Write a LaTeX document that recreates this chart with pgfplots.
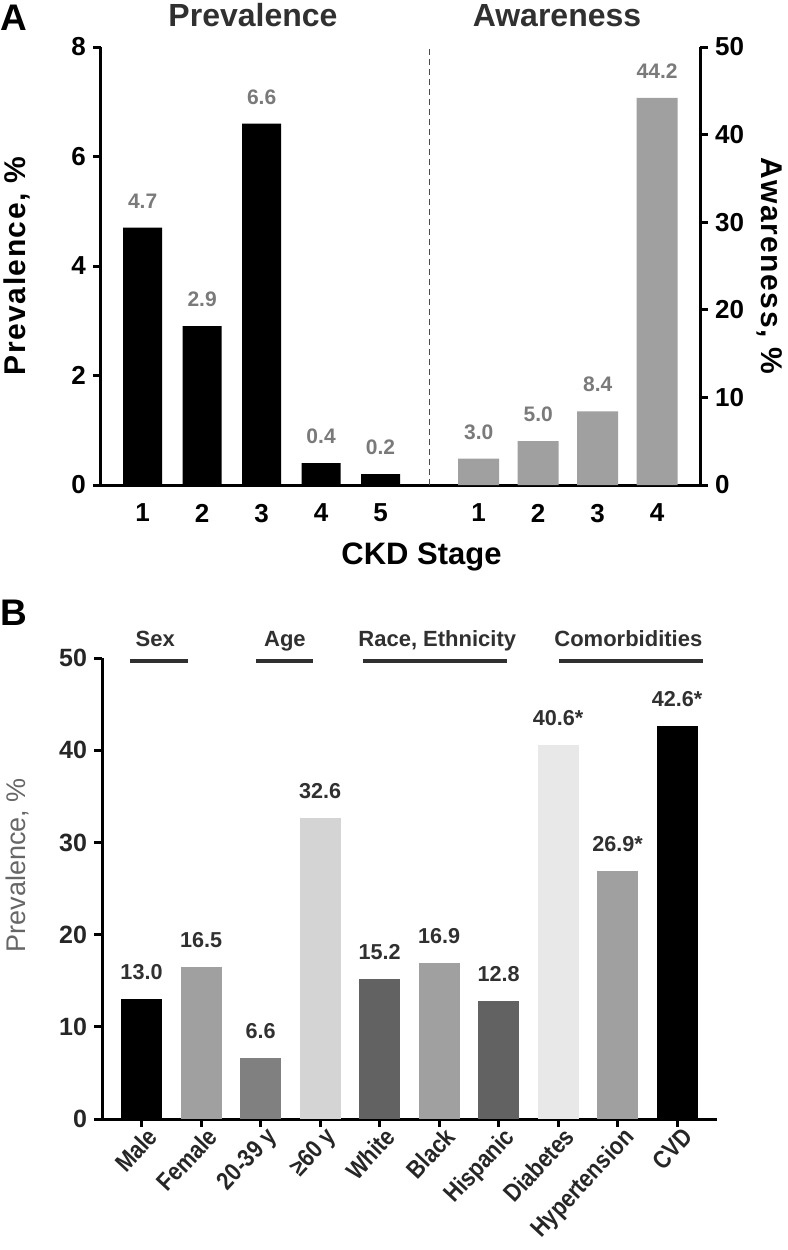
\documentclass[border=0pt]{standalone}
\usepackage{fontspec}
\setmainfont{Liberation Sans}
\newfontfamily\condfont[FakeStretch=0.86]{Liberation Sans}
\usepackage{pgfplots}
\pgfplotsset{compat=1.18}

\definecolor{lblgray}{RGB}{122,122,122}
\definecolor{txtdark}{RGB}{48,48,48}
\definecolor{gA}{RGB}{160,160,160}
\definecolor{gMid}{RGB}{128,128,128}
\definecolor{gLight}{RGB}{212,212,212}
\definecolor{gDark}{RGB}{98,98,98}
\definecolor{gPale}{RGB}{232,232,232}

\pgfplotsset{
  bbar/.style={ybar, bar shift=0pt, draw=none, fill=#1},
  vlabels/.style={point meta=explicit symbolic, nodes near coords,
    every node near coord/.append style={anchor=south, inner sep=0pt, yshift=9.5pt}},
}

\begin{document}
\begin{tikzpicture}
\path[use as bounding box] (0pt,0pt) rectangle (394pt,-625pt);

% panel labels and titles
\node[anchor=base west, inner sep=0pt, font=\fontsize{18.5}{20}\selectfont\bfseries] at (0pt,-15pt) {A};
\node[anchor=base west, inner sep=0pt, font=\fontsize{18.5}{20}\selectfont\bfseries] at (0pt,-312.5pt) {B};
\node[anchor=base, inner sep=0pt, text=txtdark, font=\fontsize{16}{18}\selectfont\bfseries] at (126.5pt,-13pt) {Prevalence};
\node[anchor=base, inner sep=0pt, text=txtdark, font=\fontsize{16}{18}\selectfont\bfseries] at (278.5pt,-13pt) {Awareness};

% ---- panel A, prevalence (left axis)
\begin{axis}[
  at={(50.5pt,-242.5pt)}, anchor=south west,
  scale only axis, width=299.5pt, height=219pt,
  xmin=0.30, xmax=10.37, ymin=0, ymax=8,
  axis x line=bottom, axis y line=left,
  axis line style={-, line width=1.5pt},
  ytick={0,2,4,6,8},
  xtick={1,2,3,4,5,6.65,7.65,8.65,9.65},
  xticklabels={1,2,3,4,5,1,2,3,4},
  x tick style={draw=none},
  y tick style={line width=1.5pt, black},
  tick align=outside, major tick length=4pt,
  /pgf/number format/assume math mode=true,
  ticklabel style={font=\fontsize{13}{15}\selectfont\bfseries},
  xticklabel style={yshift=-2pt},
  xlabel={CKD Stage},
  xlabel style={at={(axis description cs:0.535,0)}, anchor=north, inner sep=0pt,
    yshift=-28.5pt, font=\fontsize{15.5}{17}\selectfont\bfseries},
  ylabel={Prevalence, \%},
  ylabel style={at={(axis description cs:-0.14,0.5)}, anchor=center,
    font=\fontsize{15}{17}\selectfont\bfseries\addfontfeature{LetterSpace=5}},
  every node near coord/.append style={font=\fontsize{10.5}{12}\selectfont\bfseries, text=lblgray},
  clip=false,
]
\addplot[bbar=black, bar width=19.5pt, vlabels] coordinates {
  (1,4.7) [4.7]
  (2,2.9) [2.9]
  (3,6.6) [6.6]
  (4,0.4) [0.4]
  (5,0.2) [0.2]
};
\draw[line width=0.5pt, black!70, dash pattern=on 3pt off 2pt] (axis cs:5.83,0) -- (axis cs:5.83,8);
\end{axis}

% ---- panel A, awareness (right axis)
\begin{axis}[
  at={(50.5pt,-242.5pt)}, anchor=south west,
  scale only axis, width=299.5pt, height=219pt,
  xmin=0.30, xmax=10.37, ymin=0, ymax=50,
  axis x line=none, axis y line=right,
  axis line style={-, line width=1.5pt},
  ytick={0,10,20,30,40,50},
  y tick style={line width=1.5pt, black},
  tick align=outside, major tick length=4pt,
  /pgf/number format/assume math mode=true,
  ticklabel style={font=\fontsize{13}{15}\selectfont\bfseries},
  ylabel={Awareness, \%},
  ylabel style={at={(axis description cs:1.117,0.5)}, anchor=center, rotate=180,
    font=\fontsize{15}{17}\selectfont\bfseries\addfontfeature{LetterSpace=5}},
  every node near coord/.append style={font=\fontsize{10.5}{12}\selectfont\bfseries, text=lblgray},
  clip=false,
]
\addplot[bbar=gA, bar width=20.5pt, vlabels] coordinates {
  (6.65,3.0) [3.0]
  (7.65,5.0) [5.0]
  (8.65,8.4) [8.4]
  (9.65,44.2) [44.2]
};
\end{axis}

% ---- panel B
\begin{axis}[
  at={(51pt,-559.5pt)}, anchor=south west,
  scale only axis, width=307.5pt, height=230.5pt,
  xmin=-0.664, xmax=9.67, ymin=0, ymax=50,
  axis x line=bottom, axis y line=left,
  axis line style={-, line width=1.5pt},
  ytick={0,10,20,30,40,50},
  xtick={0,1,2,3,4,5,6,7,8,9},
  xticklabels={Male,Female,20-39 y,≥60 y,White,Black,Hispanic,Diabetes,Hypertension,CVD},
  tick style={line width=1.5pt, black},
  tick align=outside, major tick length=4pt,
  /pgf/number format/assume math mode=true,
  yticklabel style={font=\fontsize{12.5}{14}\selectfont\bfseries, text=black!85},
  xticklabel style={font=\fontsize{12.5}{14}\condfont\bfseries, text=black!85,
    rotate=47, anchor=north east, inner sep=1pt, xshift=3pt},
  ylabel={Prevalence, \%},
  ylabel style={at={(axis description cs:-0.137,0.55)}, anchor=center,
    font=\fontsize{13.5}{15}\selectfont, text=black!60},
  every node near coord/.append style={font=\fontsize{10.8}{12}\selectfont\bfseries, text=txtdark},
  clip=false,
]
\addplot[bbar=black,  bar width=20.5pt, vlabels] coordinates {(0,13.0) [13.0]};
\addplot[bbar=gA,     bar width=20.5pt, vlabels] coordinates {(1,16.5) [16.5]};
\addplot[bbar=gMid,   bar width=20.5pt, vlabels] coordinates {(2,6.6) [6.6]};
\addplot[bbar=gLight, bar width=20.5pt, vlabels] coordinates {(3,32.6) [32.6]};
\addplot[bbar=gDark,  bar width=20.5pt, vlabels] coordinates {(4,15.2) [15.2]};
\addplot[bbar=gA,     bar width=20.5pt, vlabels] coordinates {(5,16.9) [16.9]};
\addplot[bbar=gDark,  bar width=20.5pt, vlabels] coordinates {(6,12.8) [12.8]};
\addplot[bbar=gPale,  bar width=20.5pt, vlabels] coordinates {(7,40.6) [40.6*]};
\addplot[bbar=gA,     bar width=20.5pt, vlabels] coordinates {(8,26.9) [26.9*]};
\addplot[bbar=black,  bar width=20.5pt, vlabels] coordinates {(9,42.6) [42.6*]};

% group brackets
\draw[line width=2pt, txtdark] (axis cs:-0.19,49.67) -- (axis cs:0.78,49.67);
\draw[line width=2pt, txtdark] (axis cs:1.92,49.67) -- (axis cs:2.88,49.67);
\draw[line width=2pt, txtdark] (axis cs:3.72,49.67) -- (axis cs:6.14,49.67);
\draw[line width=2pt, txtdark] (axis cs:7.02,49.67) -- (axis cs:9.44,49.67);
\tikzset{grp/.style={anchor=base, inner sep=0pt, yshift=7.5pt, text=txtdark,
  font=\fontsize{11}{13}\selectfont\bfseries}}
\node[grp] at (axis cs:0.23,49.67) {Sex};
\node[grp] at (axis cs:2.41,49.67) {Age};
\node[grp] at (axis cs:4.97,49.67) {Race, Ethnicity};
\node[grp] at (axis cs:8.18,49.67) {Comorbidities};
\end{axis}
\end{tikzpicture}
\end{document}
